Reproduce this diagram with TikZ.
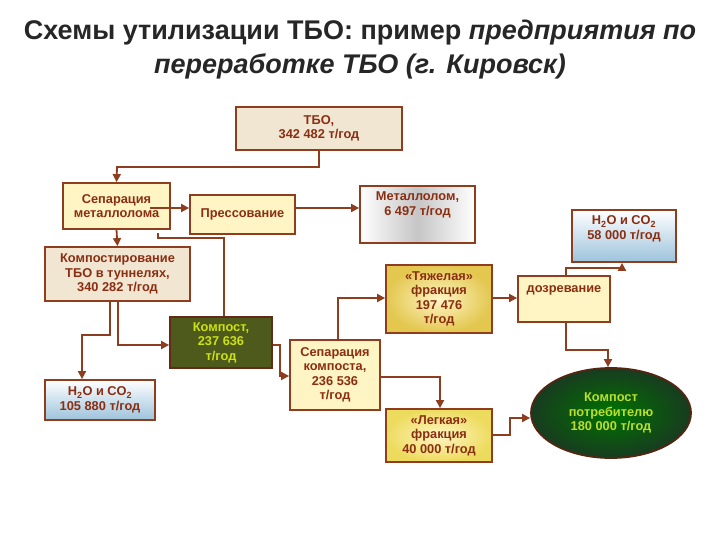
\documentclass[tikz,border=0pt]{standalone}
\usepackage{fontspec}
\setmainfont{Liberation Sans}
\usetikzlibrary{arrows.meta,shapes.geometric}
\definecolor{brd}{HTML}{8E3E1E}
\definecolor{txt}{HTML}{8A2E12}
\definecolor{yel}{HTML}{FFF5C4}
\definecolor{beige}{HTML}{F1E6D2}
\definecolor{olive}{HTML}{4E5A1C}
\definecolor{dgreen}{HTML}{1E4A28}
\definecolor{sky}{HTML}{9CC3DC}
\begin{document}
\begin{tikzpicture}[x=1pt,y=-1pt,
  bx/.style={draw=brd,line width=1.8pt,font=\bfseries\fontsize{12.8}{14.5}\selectfont,text=txt,align=center,inner sep=0pt},
  tx/.style={font=\bfseries\fontsize{12.8}{14.5}\selectfont,text=txt,align=center,inner sep=0pt},
  ar/.style={draw=brd,line width=1.8pt,-{Triangle[length=8pt,width=8pt]}},
  ln/.style={draw=brd,line width=1.8pt}]
\useasboundingbox (0,0) rectangle (720,540);
\fill[white] (0,0) rectangle (720,540);
\node[font=\bfseries\fontsize{27}{34}\selectfont,align=center,text=black!85] (title) at (360,50) {Схемы утилизации ТБО: пример \textit{предприятия по}\\\textit{переработке ТБО (г. Кировск)}};
\node[bx,fill=beige,minimum width=166pt,minimum height=43pt] (tbo) at (319,128.5) {ТБО,\\342 482 т/год};
\node[bx,fill=yel,minimum width=107pt,minimum height=46pt] (sep) at (116.5,206) {Сепарация\\металлолома};
\node[bx,fill=yel,minimum width=105pt,minimum height=39pt] (press) at (242.5,214.5) {Прессование};
\node[bx,left color=white,right color=white,middle color=gray!45,minimum width=115pt,minimum height=57pt] (met) at (417.5,214.5) {};
\node[tx] (metT) at (417.5,205) {Металлолом,\\6 497 т/год};
\node[bx,fill=beige,minimum width=145pt,minimum height=54pt] (tun) at (117.5,274) {Компостирование\\ТБО в туннелях,\\340 282 т/год};
\node[bx,draw=brd!70!black,fill=olive,text=yellow!80!green,minimum width=102pt,minimum height=51pt] (komp) at (221,342.5) {Компост,\\237 636\\т/год};
\node[bx,top color=white,bottom color=sky,minimum width=110pt,minimum height=40pt] (h2oL) at (100,400) {H\textsubscript{2}O и CO\textsubscript{2}\\105 880 т/год};
\node[bx,fill=yel,minimum width=90pt,minimum height=70pt] (sk) at (335,375) {Сепарация\\компоста,\\236 536\\т/год};
\node[bx,inner color=yel,outer color=brown!55!yellow!80,minimum width=106pt,minimum height=68pt] (heavy) at (439,299) {«Тяжелая»\\фракция\\197 476\\т/год};
\node[bx,fill=yel,minimum width=92pt,minimum height=46pt] (doz) at (564,299) {};
\node[tx] (dozT) at (564,290) {дозревание};
\node[bx,top color=white,bottom color=sky,minimum width=104pt,minimum height=52pt] (h2oR) at (624,236) {};
\node[tx] (h2oRT) at (624,229) {H\textsubscript{2}O и CO\textsubscript{2}\\58 000 т/год};
\node[bx,inner color=yel,outer color=brown!40!yellow!70,minimum width=106pt,minimum height=53pt] (light) at (439,435.5) {«Легкая»\\фракция\\40 000 т/год};
\node[ellipse,draw=brd!60!black,line width=1.8pt,inner color=green!45!black,outer color=dgreen!80!black,text=yellow!70!green!90,font=\bfseries\fontsize{12.8}{14.5}\selectfont,align=center,minimum width=160pt,minimum height=90pt,inner sep=0pt] (cons) at (611,413) {Компост\\потребителю\\180 000 т/год};
% connectors
\coordinate (c1) at (319,167); \coordinate (c2) at (117,167);
\draw[ar] (tbo.south) -- (c1) -- (c2) -- (sep.north);
\draw[ar] (150,208) -- (press.west |- 0,208);
\draw[ar] (press.east |- 0,208) -- (met.west |- 0,208);
\draw[ar] (sep.south) -- (tun.north);
\coordinate (k1) at (224,238); \coordinate (k2) at (158,238);
\draw[ln] (komp.north -| 224,0) -- (k1) -- (k2) -- ++(0,-5);
\draw[ar] (tun.south -| 110,0) -- (110,335) -- (82,335) -- (h2oL.north -| 82,0);
\draw[ar] (tun.south -| 118,0) -- (118,345) -- (komp.west |- 0,345);
\draw[ar] (komp.east |- 0,345) -- (280,345) -- (280,376) -- (sk.west |- 0,376);
\draw[ar] (sk.north -| 338,0) -- (338,298) -- (heavy.west |- 0,298);
\draw[ar] (sk.east |- 0,377) -- (440,377) -- (light.north -| 440,0);
\draw[ar] (heavy.east |- 0,298) -- (doz.west |- 0,298);
\draw[ar] (doz.north -| 566,0) -- (566,268) -- (622,268) -- (h2oR.south -| 622,0);
\draw[ar] (doz.south -| 566,0) -- (566,350) -- (608,350) -- (cons.north -| 608,0);
\draw[ar] (light.east |- 0,435) -- (510,435) -- (510,418) -- (cons.west |- 0,418);
\end{tikzpicture}
\end{document}
